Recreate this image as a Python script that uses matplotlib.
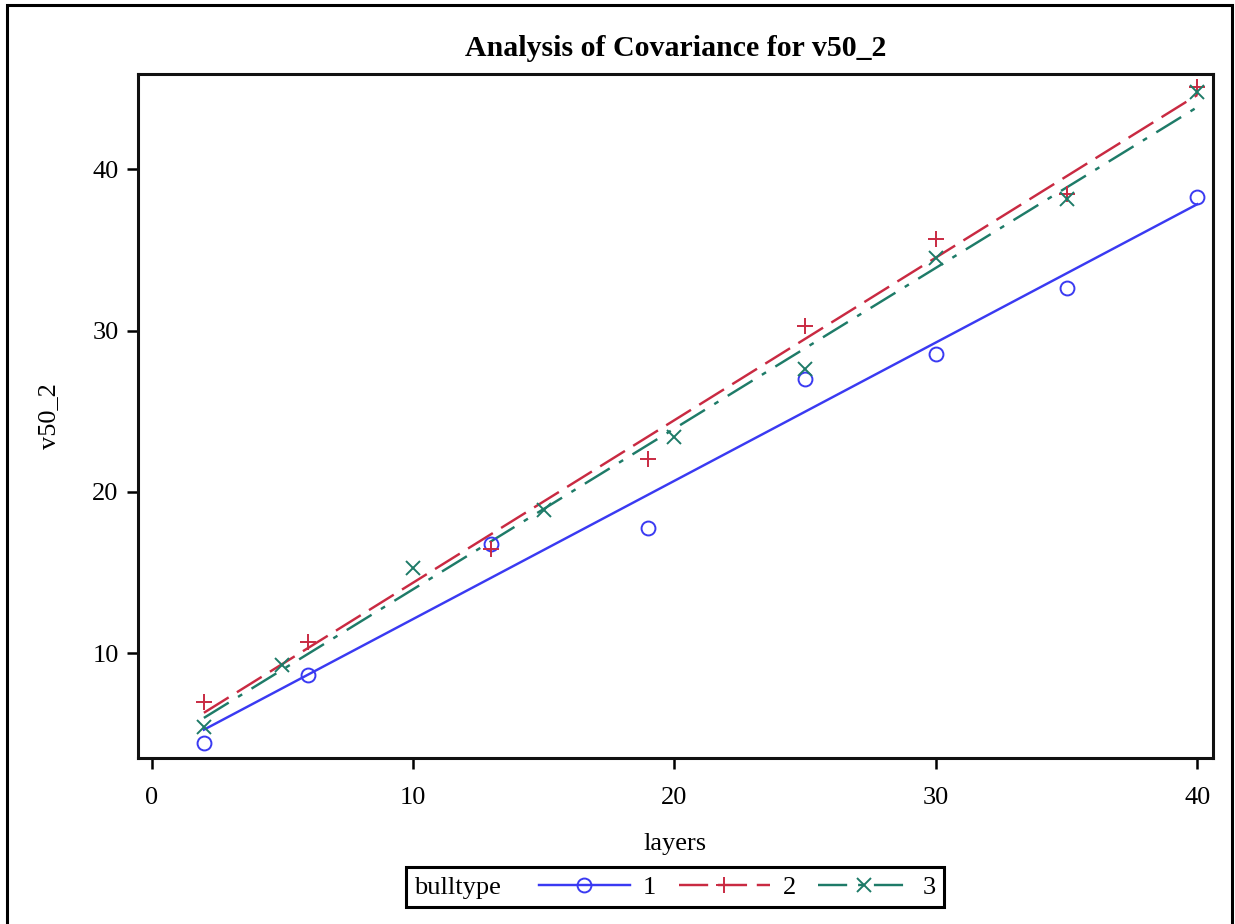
import numpy as np
import matplotlib
matplotlib.use("Agg")
import matplotlib.pyplot as plt
from matplotlib.lines import Line2D
from matplotlib.patches import Rectangle
from matplotlib.offsetbox import HPacker

# ---- data ----
groups = ["1", "2", "3"]
x1 = [2, 6, 13, 19, 25, 30, 35, 40]
y1 = [4.45, 8.68, 16.80, 17.74, 26.98, 28.57, 32.62, 38.28]
x2 = [2, 6, 13, 19, 25, 30, 35, 40]
y2 = [7.00, 10.68, 16.45, 22.02, 30.29, 35.70, 38.45, 45.12]
x3 = [2, 5, 10, 15, 20, 25, 30, 35, 40]
y3 = [5.45, 9.28, 15.27, 18.88, 23.43, 27.60, 34.52, 38.14, 44.79]
x_ticks = [0, 10, 20, 30, 40]
y_ticks = [10, 20, 30, 40]

title = "Analysis of Covariance for v50_2"
xlabel = "layers"
ylabel = "v50_2"
legend_title = "bulltype"

# ---- styles ----
colors = ["#3a3af2", "#c92a42", "#1e7b68"]
markers = ["o", "+", "x"]
lw = 1.75
linestyles = ["-", (0, (12, 4)), (0, (12, 4.5, 2, 4.5))]
msizes = [10, 11.5, 10.5]
FS = 19

plt.rcParams["font.family"] = ["Liberation Serif", "DejaVu Serif"]

fig = plt.figure(figsize=(12.35, 9.24), dpi=100)
ax = fig.add_axes([138 / 1235, 1 - 758 / 924, (1213 - 138) / 1235, (758 - 74) / 924])

handles = []
for xs, ys, c, m, ls, ms in zip([x1, x2, x3], [y1, y2, y3], colors, markers, linestyles, msizes):
    xs = np.asarray(xs, float)
    ys = np.asarray(ys, float)
    b, a = np.polyfit(xs, ys, 1)
    xl = np.array([xs.min(), xs.max()])
    ax.plot(xl, a + b * xl, color=c, lw=lw, ls=ls, zorder=2)
    ax.plot(xs, ys, ls="none", marker=m, ms=ms, mfc="none", mec=c, mew=1.4, zorder=3)
    handles.append(Line2D([0], [0], color=c, lw=lw, ls=ls, marker=m, ms=ms,
                          mfc="none", mec=c, mew=1.4))

ax.set_xlim(-0.52, 40.6)
ax.set_ylim(3.51, 45.91)
ax.set_xticks(x_ticks)
ax.set_yticks(y_ticks)
ax.tick_params(axis="both", labelsize=FS, length=8, width=1.8, direction="out", color="black")
ax.tick_params(axis="x", pad=13)
ax.tick_params(axis="y", pad=6)
for s in ax.spines.values():
    s.set_linewidth(2.2)
    s.set_color("#111111")

ax.set_xlabel(xlabel, fontsize=FS, labelpad=17)
ax.set_ylabel(ylabel, fontsize=FS, labelpad=23)
ax.set_title(title, fontsize=21.5, fontweight="bold", pad=13)

leg = fig.legend(handles, groups, loc="center", bbox_to_anchor=(675 / 1235, 1 - 887 / 924),
                 ncol=3, fontsize=FS, title=legend_title, title_fontsize=FS,
                 handlelength=3.45, handletextpad=0.5, columnspacing=0.85,
                 borderpad=0.3, numpoints=1, frameon=True, fancybox=False,
                 edgecolor="black", framealpha=1)
leg.get_frame().set_linewidth(2.2)
new_row = HPacker(pad=0, sep=27, align="baseline",
                  children=[leg._legend_title_box, leg._legend_handle_box])
leg._legend_box._children = [new_row]

# outer figure border
fig.patches.append(Rectangle((7 / 1235, -0.05), (1232 - 7) / 1235, 1 - 5 / 924 + 0.05,
                             transform=fig.transFigure, fill=False, lw=2.2,
                             edgecolor="black", clip_on=False))

fig.savefig("out.png", dpi=100)
